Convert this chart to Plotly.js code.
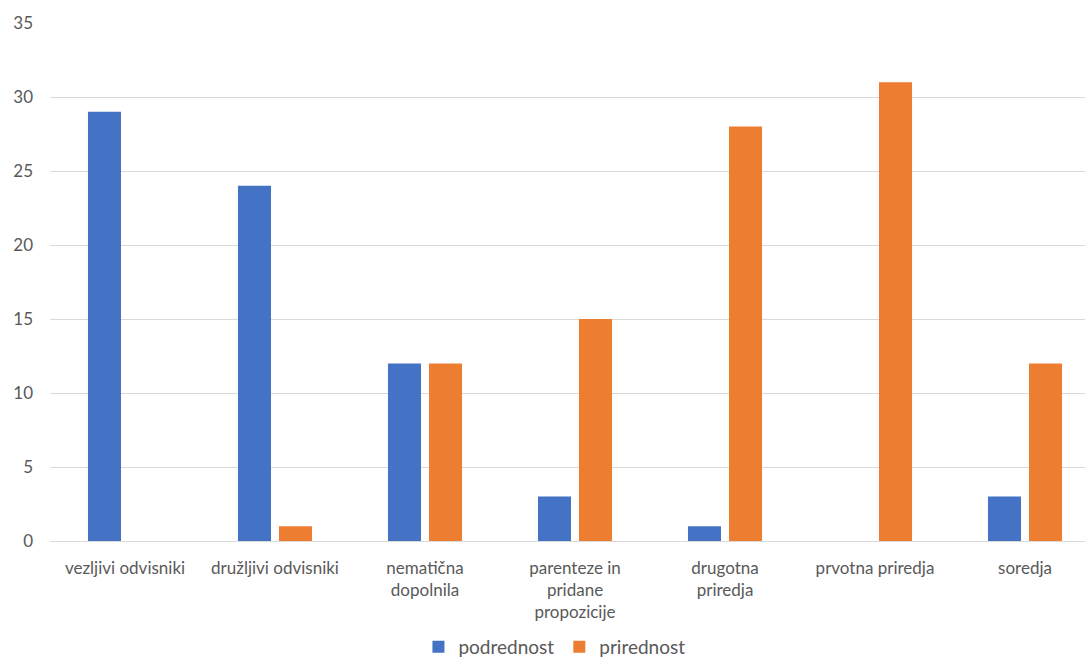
<!DOCTYPE html>
<html>
<head>
<meta charset="utf-8">
<script src="https://cdn.plot.ly/plotly-3.0.1.min.js"></script>
<style>html,body{margin:0;padding:0;background:#fff;}#chart{width:1085px;height:666px;}</style>
</head>
<body>
<div id="chart"></div>
<script>
const categories = ["vezljivi odvisniki", "družljivi odvisniki", "nematična<br>dopolnila", "parenteze in<br>pridane<br>propozicije", "drugotna<br>priredja", "prvotna priredja", "soredja"];
const podrednost = [29, 24, 12, 3, 1, 0, 3];
const prirednost = [0, 1, 12, 15, 28, 31, 12];
const yTicks = [0, 5, 10, 15, 20, 25, 30, 35];

const font = {family: "Lato, 'Open Sans', sans-serif", size: 17, color: "#595959"};

const data = [
  {type: "bar", name: "podrednost", x: categories, y: podrednost, marker: {color: "#4472C4"}},
  {type: "bar", name: "prirednost", x: categories, y: prirednost, marker: {color: "#ED7D31"}}
];

const layout = {
  width: 1085, height: 666,
  margin: {l: 50, r: 0, t: 23, b: 125},
  paper_bgcolor: "#fff", plot_bgcolor: "#fff",
  barmode: "group", bargap: 0.453, bargroupgap: 0.195,
  font: font,
  xaxis: {
    type: "category", range: [-0.5, 6.4],
    showgrid: false, zeroline: false, showline: false,
    ticks: "", tickfont: font, ticklabelstandoff: 15, automargin: false
  },
  yaxis: {
    range: [0, 35], tickvals: yTicks, ticktext: yTicks.map(String),
    showgrid: true, gridcolor: "#d9d9d9", gridwidth: 1,
    zeroline: true, zerolinecolor: "#d9d9d9", zerolinewidth: 1,
    showline: false, ticks: "", tickfont: font, ticklabelstandoff: 16, automargin: false
  },
  showlegend: true,
  legend: {
    orientation: "h", x: 0.511, xanchor: "center", xref: "container",
    y: -0.03, yanchor: "bottom", yref: "container",
    font: {family: font.family, size: 19, color: "#595959"}, itemclick: false, itemwidth: 30
  }
};

Plotly.newPlot("chart", data, layout, {staticPlot: true, displayModeBar: false});
</script>
</body>
</html>
